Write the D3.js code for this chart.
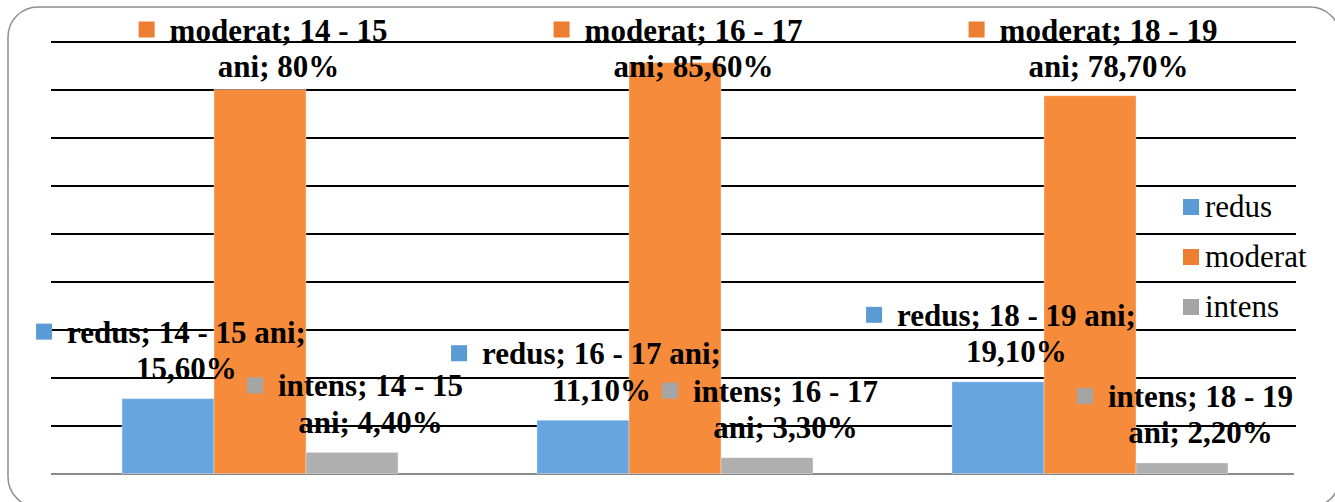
<!DOCTYPE html>
<html>
<head>
<meta charset="utf-8">
<script src="https://cdn.jsdelivr.net/npm/d3@7"></script>
<style>
  html, body { margin: 0; padding: 0; background: #fff; }
  svg { display: block; }
  text { font-family: "Liberation Serif", "Times New Roman", serif; }
</style>
</head>
<body>
<svg id="chart" width="1335" height="502"></svg>
<script>
// Age groups, series and percentage values
const categories = ["14 - 15 ani", "16 - 17 ani", "18 - 19 ani"];
const series = ["redus", "moderat", "intens"];
const redus = [15.6, 11.1, 19.1];
const moderat = [80, 85.6, 78.7];
const intens = [4.4, 3.3, 2.2];
const yTicks = [0, 10, 20, 30, 40, 50, 60, 70, 80, 90];

const values = { redus, moderat, intens };
const barColor = { redus: "#66a5e0", moderat: "#f68b3b", intens: "#afafaf" };
const keyColor = { redus: "#5b9bd5", moderat: "#ed7d31", intens: "#a5a5a5" };
// where each series' data label wraps onto its second line
const wrapAfterCategory = { redus: false, moderat: true, intens: true };

const svg = d3.select("#chart");

// rounded chart frame
svg.append("rect")
  .attr("x", 8).attr("y", 7)
  .attr("width", 1332).attr("height", 500)
  .attr("rx", 30).attr("ry", 30)
  .attr("fill", "#fff")
  .attr("stroke", "#8e8e8e")
  .attr("stroke-width", 1.5);

const plot = { left: 52, right: 1296, top: 41.5, bottom: 473.5 };

const x0 = d3.scaleBand().domain(categories).range([52.5, 1297.5]).padding(0);
const x1 = d3.scaleBand().domain(series).range([0, x0.bandwidth()])
  .paddingInner(0).paddingOuter(0.755);
const y = d3.scaleLinear().domain([0, 90]).range([plot.bottom, plot.top]);

// horizontal gridlines
const grid = svg.append("g")
  .attr("transform", `translate(${plot.left - 1},0)`)
  .call(d3.axisLeft(y).tickValues(yTicks).tickSize(-(plot.right - plot.left + 1)).tickFormat(""));
grid.select(".domain").remove();
grid.selectAll(".tick line")
  .attr("stroke", d => d === 0 ? "#8a8a8a" : "#000")
  .attr("stroke-width", 2)
  .attr("x2", d => d === 0 ? (plot.right - plot.left - 1) : (plot.right - plot.left + 1));

// bars
const rows = [];
categories.forEach((c, i) => {
  series.forEach(s => rows.push({ cat: c, s, v: values[s][i] }));
});

svg.append("g").selectAll("rect")
  .data(rows)
  .join("rect")
  .attr("x", d => x0(d.cat) + x1(d.s))
  .attr("y", d => y(d.v))
  .attr("width", x1.bandwidth())
  .attr("height", d => y(0) - y(d.v))
  .attr("fill", d => barColor[d.s])
  .attr("stroke", "#ffffff")
  .attr("stroke-opacity", 0.35)
  .attr("stroke-width", 1);

// data labels with legend key
const fmt = v => Number.isInteger(v) ? `${v}%` : v.toFixed(2).replace(".", ",") + "%";
const labelTopLimit = 77;
const labels = svg.append("g");
rows.forEach(d => {
  const parts = d.cat.split(" ani");
  const lines = wrapAfterCategory[d.s]
    ? [`${d.s}; ${parts[0]}`, `ani; ${fmt(d.v)}`]
    : [`${d.s}; ${d.cat};`, fmt(d.v)];
  const cx = x0(d.cat) + x1(d.s) + x1.bandwidth() / 2 + 18.5;
  const base2 = Math.max(y(d.v) - 19.5, labelTopLimit);
  const base1 = base2 - 36.5;
  const g = labels.append("g");
  const t1 = g.append("text")
    .attr("x", cx).attr("y", base1)
    .attr("text-anchor", "middle")
    .attr("font-size", 31).attr("font-weight", "bold").attr("fill", "#000")
    .text(lines[0]);
  g.append("text")
    .attr("x", cx).attr("y", base2)
    .attr("text-anchor", "middle")
    .attr("font-size", 31).attr("font-weight", "bold").attr("fill", "#000")
    .text(lines[1]);
  const w = t1.node().getComputedTextLength();
  g.append("rect")
    .attr("x", cx - w / 2 - 15 - 16)
    .attr("y", base1 - 19)
    .attr("width", 16).attr("height", 16)
    .attr("fill", keyColor[d.s]);
});

// legend
const legend = svg.append("g").attr("transform", "translate(1183,199)");
series.forEach((s, i) => {
  legend.append("rect")
    .attr("x", 0).attr("y", i * 50)
    .attr("width", 16).attr("height", 16)
    .attr("fill", keyColor[s]);
  legend.append("text")
    .attr("x", 22).attr("y", i * 50 + 18)
    .attr("font-size", 31).attr("fill", "#000")
    .text(s);
});
</script>
</body>
</html>
